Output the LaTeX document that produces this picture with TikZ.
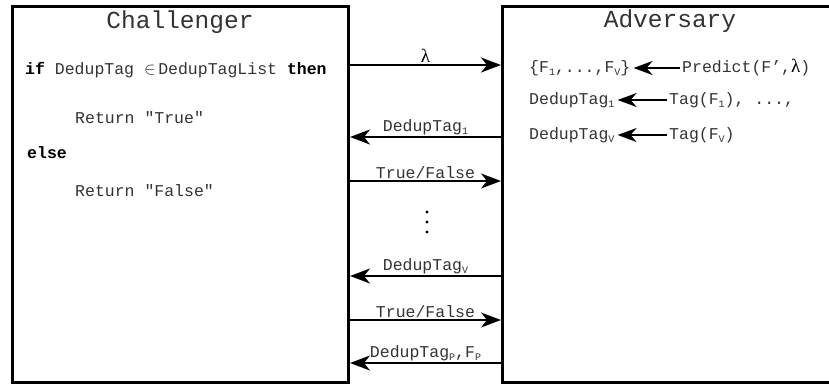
\documentclass[tikz,border=0pt]{standalone}
\usepackage{fontspec}
\setmonofont{Liberation Mono}
\newfontfamily\greekfont{Liberation Serif}
\usetikzlibrary{arrows.meta, positioning}
% small lowered index for typewriter text
\newcommand{\lowsub}[1]{\raisebox{-0.4ex}{\fontsize{10}{10}\selectfont #1}}
\newcommand{\lam}{{\greekfont\fontsize{19}{19}\selectfont λ}}

\begin{document}
\begin{tikzpicture}[x=1pt, y=-1pt,
    party/.style={draw, line width=3pt, inner sep=0pt},
    title/.style={font=\ttfamily\fontsize{24.5}{26}\selectfont, text=black!80, inner sep=0pt},
    code/.style={font=\ttfamily\fontsize{16.5}{18}\selectfont, text=black!80, anchor=west, inner sep=1pt},
    lbl/.style={font=\ttfamily\fontsize{16.5}{18}\selectfont, text=black!80, above, inner sep=1.5pt},
    msg/.style={-{Stealth[length=20pt, width=15pt, inset=6pt]}, line width=1.8pt},
    derive/.style={-{Stealth[length=19pt, width=14pt, inset=6pt]}, line width=1.8pt,
        shorten >=2pt, shorten <=1pt}
]
\useasboundingbox (0,0) rectangle (829,389);
\clip (0,0) rectangle (829,389);

% === Parties ===
\node[party, minimum width=336pt, minimum height=376pt] (chal) at (180.5,194.5) {};
\node[party, minimum width=600pt, minimum height=376pt] (adv) at (802.5,194.5) {};

\node[title] (chalname) at (180,22) {Challenger};
\node[title] (advname) at (670,21) {Adversary};

% === Challenger's check ===
\node[code] (ifline) at (24,70) {\textcolor{black}{\textbf{if}} DedupTag $\in$\,DedupTagList \textcolor{black}{\textbf{then}}};
\node[code] (rettrue) at (74,118) {Return "True"};
\node[code] (elseline) at (26,153) {\textcolor{black}{\textbf{else}}};
\node[code] (retfalse) at (74,191) {Return "False"};

% === Adversary's computations ===
\node[code] (fset) at (528,68) {\{F\lowsub{1},...,F\lowsub{V}\}};
\node[code] (pred) at (681,68) {Predict(F’,\textcolor{black}{\lam})};
\draw[derive] (pred.west) -- (fset.east);

\node[code] (tagone) at (528,100) {DedupTag\lowsub{1}};
\node[code] (hashone) at (668,100) {Tag(F\lowsub{1}), ...,};
\draw[derive] (hashone.west) -- (tagone.east);

\node[code] (tagv) at (528,135) {DedupTag\lowsub{V}};
\node[code] (hashv) at (668,135) {Tag(F\lowsub{V})};
\draw[derive] (hashv.west) -- (tagv.east);

% === Messages ===
\draw[msg] (chal.east |- 0,65) -- (adv.west |- 0,65)
    node[lbl, midway] (lamlbl) {\textcolor{black}{\lam}};
\draw[msg] (adv.west |- 0,137) -- (chal.east |- 0,137)
    node[lbl, midway] (qone) {DedupTag\lowsub{1}};
\draw[msg] (chal.east |- 0,181) -- (adv.west |- 0,181)
    node[lbl, midway] (aone) {True/False};

% gap between rounds
\foreach \y in {212,222,232}
    \fill (427,\y) circle (1.6);

\draw[msg] (adv.west |- 0,276) -- (chal.east |- 0,276)
    node[lbl, midway] (qv) {DedupTag\lowsub{V}};
\draw[msg] (chal.east |- 0,320) -- (adv.west |- 0,320)
    node[lbl, midway] (av) {True/False};
\draw[msg] (adv.west |- 0,363) -- (chal.east |- 0,363)
    node[lbl, midway] (guess) {DedupTag\lowsub{P},F\lowsub{P}};

\end{tikzpicture}
\end{document}
